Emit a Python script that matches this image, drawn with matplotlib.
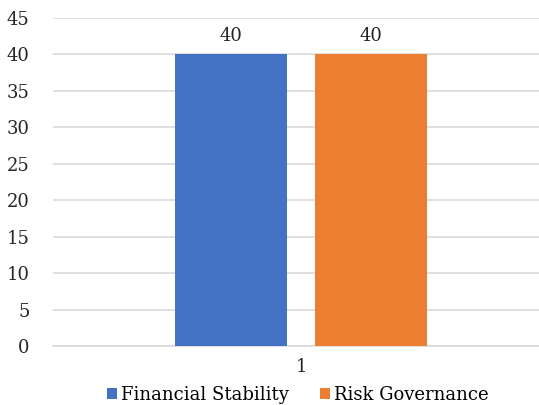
import matplotlib
matplotlib.use('Agg')
import matplotlib.pyplot as plt
from matplotlib.patches import Patch

categories = ['1']
series_names = ['Financial Stability', 'Risk Governance']
series_values = [[40], [40]]
colors = ['#4472C4', '#ED7D31']
yticks = [0, 5, 10, 15, 20, 25, 30, 35, 40, 45]

plt.rcParams['font.family'] = ['DejaVu Serif']
fs = 13

fig = plt.figure(figsize=(5.39, 4.05), dpi=100)
ax = fig.add_axes([53 / 539, 59 / 405, 496 / 539, 328 / 405])

width = 0.226
offsets = [-0.142, 0.142]
for name, vals, col, off in zip(series_names, series_values, colors, offsets):
    bars = ax.bar([i + off for i in range(len(categories))], vals, width=width, color=col, zorder=3, label=name)
    for b, v in zip(bars, vals):
        ax.text(b.get_x() + b.get_width() / 2, v + 1.3, str(v), ha='center', va='bottom', fontsize=fs, color='#262626')

ax.set_xlim(-0.5, 0.5)
ax.set_ylim(0, 45)
ax.set_yticks(yticks)
ax.set_xticks(range(len(categories)))
ax.set_xticklabels(categories)
ax.grid(axis='y', color='#D9D9D9', linewidth=1.2, zorder=0)
for s in ['top', 'right', 'left']:
    ax.spines[s].set_visible(False)
ax.spines['bottom'].set_color('#D9D9D9')
ax.spines['bottom'].set_linewidth(1.2)
ax.tick_params(axis='both', length=0, labelsize=fs, colors='#262626')
ax.tick_params(axis='y', pad=17)
ax.tick_params(axis='x', pad=9)

handles = [Patch(facecolor=c) for c in colors]
fig.legend(handles, series_names, loc='center', bbox_to_anchor=(298 / 539, 1 - 395 / 405), ncol=2,
           frameon=False, fontsize=fs, handlelength=0.55, handleheight=0.55, handletextpad=0.25, columnspacing=1.7)

fig.savefig('out.png', dpi=100)
